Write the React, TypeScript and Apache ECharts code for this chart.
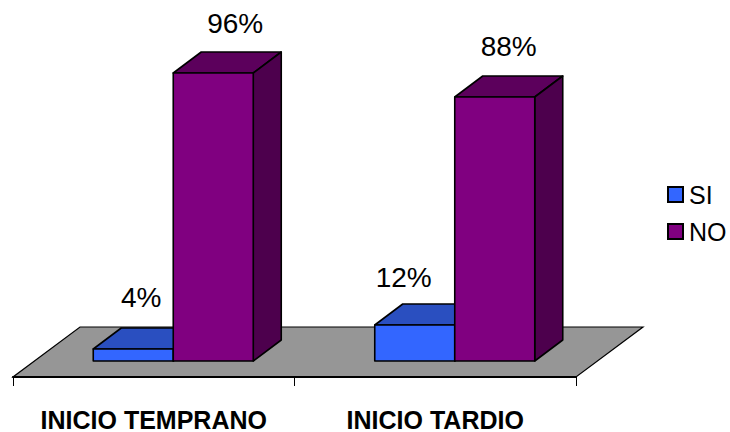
import React, { useEffect, useRef } from "react";
import * as echarts from "echarts";

const categories = ["INICIO TEMPRANO", "INICIO TARDIO"];
const siValues = [4, 12];
const noValues = [96, 88];

const FONT = "'Liberation Sans', Arial, sans-serif";
const BAR_WIDTH = 80;
const DEPTH_X = 28;
const DEPTH_Y = 21;
const CLUSTER_SHIFT = 19.5;
const FLOOR_DX = 67;
const FLOOR_DY = 50;
const FLOOR_DROP = 16;

// Value labels sit freely above each block: [dx from bar centre, gap above the front top]
const labelPlacement: Record<string, [number, number][]> = {
  SI: [[8, 52], [-11, 48]],
  NO: [[22, 50], [14, 51]],
};

type BarStyle = { front: string; top: string; side: string };

function blockSeries(name: string, values: number[], order: number, style: BarStyle) {
  return {
    type: "custom",
    name,
    silent: true,
    z: 3 + order,
    data: values.map((v, i) => [i, v]),
    encode: { x: 0, y: 1 },
    renderItem: (params: any, api: any) => {
      const cat = api.value(0);
      const val = api.value(1);
      const [cx, yTop] = api.coord([cat, val]);
      const [, yBase] = api.coord([cat, 0]);
      const x0 = cx + CLUSTER_SHIFT + (order - 1) * BAR_WIDTH;
      const x1 = x0 + BAR_WIDTH;
      const edge = { stroke: "#000", lineWidth: 1.6, lineJoin: "round" };
      const [ldx, lgap] = labelPlacement[name][params.dataIndex];
      return {
        type: "group",
        children: [
          {
            type: "polygon",
            shape: { points: [[x0, yTop], [x1, yTop], [x1 + DEPTH_X, yTop - DEPTH_Y], [x0 + DEPTH_X, yTop - DEPTH_Y]] },
            style: { fill: style.top, ...edge },
          },
          {
            type: "polygon",
            shape: { points: [[x1, yTop], [x1 + DEPTH_X, yTop - DEPTH_Y], [x1 + DEPTH_X, yBase - DEPTH_Y], [x1, yBase]] },
            style: { fill: style.side, ...edge },
          },
          {
            type: "rect",
            shape: { x: x0, y: yTop, width: BAR_WIDTH, height: yBase - yTop },
            style: { fill: style.front, ...edge },
          },
          {
            type: "text",
            z2: 50,
            style: {
              text: `${val}%`,
              x: x0 + BAR_WIDTH / 2 + ldx,
              y: yTop - lgap,
              align: "center",
              verticalAlign: "middle",
              fill: "#000",
              font: `28px ${FONT}`,
            },
          },
        ],
      };
    },
  };
}

export default function App() {
  const ref = useRef<HTMLDivElement>(null);

  useEffect(() => {
    const chart = echarts.init(ref.current!, undefined, { renderer: "svg" });
    chart.setOption({
      animation: false,
      backgroundColor: "#fff",
      grid: { left: 13, top: 61, width: 563, height: 300 },
      xAxis: {
        type: "category",
        data: categories,
        offset: FLOOR_DROP,
        z: 2,
        axisLine: { onZero: false, lineStyle: { color: "#000", width: 2 } },
        axisTick: { show: true, length: 9, lineStyle: { color: "#000", width: 1 } },
        axisLabel: {
          interval: 0,
          margin: 30,
          color: "#000",
          fontFamily: FONT,
          fontWeight: "bold",
          fontSize: 25,
        },
      },
      yAxis: { type: "value", min: 0, max: 100, show: false },
      legend: {
        orient: "vertical",
        left: 662,
        top: 177,
        itemWidth: 15,
        itemHeight: 15,
        itemGap: 12,
        selectedMode: false,
        textStyle: { color: "#000", fontFamily: FONT, fontSize: 25, padding: [0, 0, 0, 1] },
        data: [
          { name: "SI", icon: "rect", itemStyle: { color: "#3366FF", borderColor: "#000", borderWidth: 2 } },
          { name: "NO", icon: "rect", itemStyle: { color: "#800080", borderColor: "#000", borderWidth: 2 } },
        ],
      },
      series: [
        {
          type: "custom",
          name: "piso",
          silent: true,
          z: 1,
          data: [[0, 0]],
          encode: { x: 0, y: 1 },
          renderItem: (params: any) => {
            const { x, y, width, height } = params.coordSys;
            const yf = y + height + FLOOR_DROP;
            return {
              type: "polygon",
              shape: {
                points: [
                  [x, yf],
                  [x + width, yf],
                  [x + width + FLOOR_DX, yf - FLOOR_DY],
                  [x + FLOOR_DX, yf - FLOOR_DY],
                ],
              },
              style: { fill: "#969696", stroke: "#000", lineWidth: 1.2 },
            };
          },
        },
        blockSeries("SI", siValues, 0, { front: "#3366FF", top: "#2A4FC0", side: "#1F3A90" }),
        blockSeries("NO", noValues, 1, { front: "#800080", top: "#5C005C", side: "#4D004D" }),
      ],
    });
    return () => chart.dispose();
  }, []);

  return <div ref={ref} style={{ position: "fixed", left: 0, top: 0, width: 730, height: 432 }} />;
}
